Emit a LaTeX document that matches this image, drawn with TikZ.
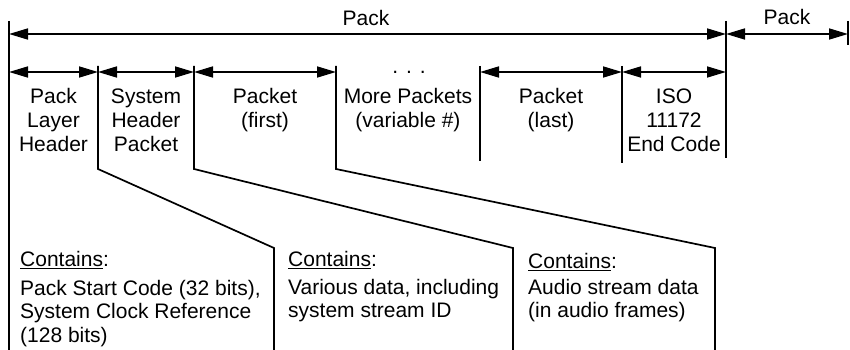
\documentclass[tikz,border=0pt]{standalone}
\usepackage{fontspec}
\setmainfont{Liberation Sans}
\usetikzlibrary{arrows.meta}

\begin{document}
\begin{tikzpicture}[x=1pt,y=-1pt,
  wall/.style={line width=1.7pt},
  span/.style={{Triangle[length=19pt,width=11pt]}-{Triangle[length=19pt,width=11pt]},line width=1.7pt},
  fld/.style={align=center,anchor=north,inner sep=0pt,font=\fontsize{21}{24}\selectfont},
  note/.style={align=left,anchor=north west,inner sep=0pt,font=\fontsize{21}{23.5}\selectfont}
]
\useasboundingbox (0,0) rectangle (850,350);
\foreach \n/\x in {0/9,1/98,2/194,3/336,4/480,5/622,6/726}
  \coordinate (r\n) at (\x,72);
\coordinate (p0) at (9,34);
\coordinate (p1) at (726,34);
\coordinate (p2) at (848,34);
\draw[wall] (9,21) -- (9,350);
\draw[wall] (98,66) -- (98,169) -- (274,248) -- (274,350);
\draw[wall] (194,66) -- (194,169) -- (513,248) -- (513,350);
\draw[wall] (336,66) -- (336,169) -- (715,248) -- (715,350);
\draw[wall] (480,66) -- (480,161);
\draw[wall] (622,66) -- (622,163);
\draw[wall] (726,21) -- (726,158);
\draw[wall] (848,21) -- (848,45);
\draw[span] (p0) -- (p1) node[fld,anchor=base,pos=0.498,yshift=8pt] (pk) {Pack};
\draw[span] (p1) -- (p2) node[fld,anchor=base,midway,yshift=9pt] (pknext) {Pack};
\draw[span] (r0) -- (r1);
\draw[span] (r1) -- (r2);
\draw[span] (r2) -- (r3);
\draw[span] (r4) -- (r5);
\draw[span] (r5) -- (r6);
\node[fld,anchor=base] (dots) at (409,74) {.\hspace{8pt}.\hspace{8pt}.};
\node[fld] (plh) at (53.5,88.5) {Pack\\Layer\\Header};
\node[fld] (shp) at (146,88.5) {System\\Header\\Packet};
\node[fld] (first) at (265,88.5) {Packet\\(first)};
\node[fld] (more) at (408,88.5) {More Packets\\(variable \#)};
\node[fld] (last) at (551,88.5) {Packet\\(last)};
\node[fld] (iso) at (674,88.5) {ISO\\11172\\End Code};
\node[note] (cpack) at (20,251.5) {\underline{Contains}:\\[5pt]Pack Start Code (32 bits),\\System Clock Reference\\(128 bits)};
\node[note] (csys) at (288,251.5) {\underline{Contains}:\\[4pt]Various data, including\\system stream ID};
\node[note] (caud) at (528,253.5) {\underline{Contains}:\\[2pt]Audio stream data\\(in audio frames)};
\end{tikzpicture}
\end{document}
